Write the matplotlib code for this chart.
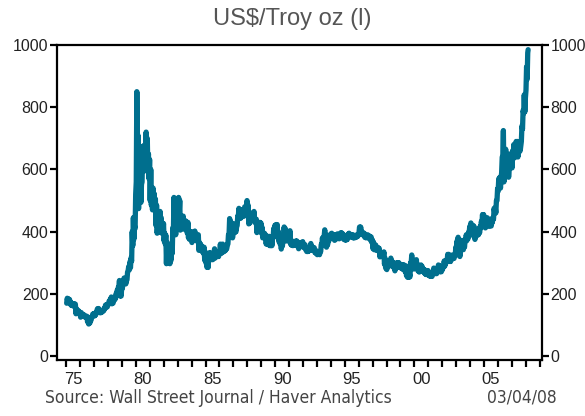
import numpy as np
import matplotlib
matplotlib.use("Agg")
import matplotlib.pyplot as plt

# Monthly low / high gold prices (US$/troy oz)
years = list(range(1975, 2008))
lo = {
1975: [170,175,174,167,163,162,162,158,136,140,139,135],
1976: [125,128,129,127,125,123,110,103,106,115,127,130],
1977: [129,132,144,147,144,139,140,143,146,153,158,158],
1978: [166,172,178,168,170,179,184,195,207,220,193,193],
1979: [217,233,236,232,245,275,277,284,305,355,376,410],
1980: [560,635,474,495,494,560,616,595,636,630,600,570],
1981: [500,485,470,480,475,420,395,398,420,430,395,400],
1982: [370,360,297,340,320,297,308,330,395,405,390,420],
1983: [460,460,405,414,427,408,410,410,395,380,375,380],
1984: [365,373,385,375,370,370,340,343,340,335,330,308],
1985: [300,285,285,315,310,310,310,325,315,320,320,320],
1986: [330,330,332,335,337,340,345,360,390,408,386,380],
1987: [400,397,400,420,449,443,443,447,450,450,460,480],
1988: [470,425,428,445,448,440,432,427,397,405,410,410],
1989: [395,380,382,380,360,360,360,355,355,355,380,405],
1990: [402,410,382,368,360,344,354,374,380,370,378,370],
1991: [370,360,356,355,356,363,365,353,345,355,358,352],
1992: [350,350,342,336,336,338,345,340,340,340,333,330],
1993: [326,327,326,336,355,365,385,372,350,358,370,378],
1994: [378,378,378,372,375,382,382,377,385,386,380,375],
1995: [373,373,375,388,382,385,383,380,380,381,383,385],
1996: [396,400,392,390,390,382,380,385,380,378,372,366],
1997: [346,342,345,340,340,337,319,320,320,321,295,283],
1998: [278,292,290,300,292,287,287,274,285,290,290,285],
1999: [283,283,278,280,270,258,253,253,255,298,290,280],
2000: [281,290,280,273,270,278,278,272,269,264,262,270],
2001: [260,257,256,256,266,266,265,265,273,274,271,271],
2002: [278,288,289,299,305,315,304,304,315,313,314,325],
2003: [345,345,325,320,345,345,342,350,372,371,377,396],
2004: [400,395,390,385,375,385,390,390,396,411,425,430],
2005: [420,412,425,423,417,420,418,430,440,462,460,500],
2006: [530,540,540,590,640,560,610,615,580,575,610,615],
2007: [605,645,637,670,655,640,655,660,690,730,780,785],
}
hi = {
1975: [186,184,182,173,170,168,168,167,152,146,145,141],
1976: [140,134,134,130,128,128,124,113,118,123,135,137],
1977: [137,142,152,153,149,143,146,148,154,164,165,165],
1978: [176,182,190,180,182,186,200,211,221,243,219,226],
1979: [234,251,246,244,270,288,303,316,400,445,418,520],
1980: [850,710,640,545,552,673,677,676,720,700,650,632],
1981: [600,510,540,522,505,485,425,440,465,445,428,426],
1982: [395,389,366,360,349,330,358,412,510,440,435,458],
1983: [510,500,440,445,450,425,435,430,430,402,390,400],
1984: [378,396,402,388,389,390,365,360,352,348,350,335],
1985: [310,310,330,333,320,323,325,345,330,330,330,330],
1986: [360,350,360,345,350,350,360,390,442,432,410,395],
1987: [425,407,415,450,475,460,470,470,470,480,475,500],
1988: [485,460,460,456,457,465,440,440,430,410,430,428],
1989: [414,395,395,390,380,375,385,375,372,380,410,420],
1990: [423,423,400,380,375,358,375,415,410,390,390,390],
1991: [403,370,370,362,361,370,370,360,355,365,365,368],
1992: [360,358,350,341,340,345,362,348,350,348,338,338],
1993: [332,333,335,359,380,380,406,390,362,370,380,392],
1994: [395,388,390,385,390,393,390,385,397,395,390,385],
1995: [382,380,392,395,390,390,390,388,388,388,390,390],
1996: [415,415,400,396,395,390,387,390,387,385,383,374],
1997: [367,357,357,350,349,346,335,330,330,335,315,300],
1998: [300,305,303,315,305,300,298,290,300,300,300,295],
1999: [294,292,294,290,290,270,264,264,300,325,300,290],
2000: [290,310,295,285,280,293,288,280,278,275,270,275],
2001: [270,266,268,264,283,272,270,280,293,290,280,280],
2002: [288,306,303,309,327,327,323,318,325,320,325,350],
2003: [370,382,353,340,372,367,359,375,390,388,398,417],
2004: [428,415,420,415,396,400,405,410,417,433,455,455],
2005: [430,437,445,440,430,440,430,445,475,477,500,538],
2006: [570,575,570,640,725,630,665,650,630,600,650,640],
2007: [660,680,675,690,690,670,680,675,740,790,840,830],
}
lo_2008 = [855, 890]
hi_2008 = [930, 975]
last_value = 985  # 03/04/08

x_tick_labels = ["75", "80", "85", "90", "95", "00", "05"]
y_ticks = [0, 200, 400, 600, 800, 1000]

# Build the series (low then high within each month)
xs, ys = [], []
for y in years:
    for m in range(12):
        xs += [y + (m + 0.25) / 12, y + (m + 0.75) / 12]
        ys += [lo[y][m], hi[y][m]]
for m in range(2):
    xs += [2008 + (m + 0.25) / 12, 2008 + (m + 0.75) / 12]
    ys += [lo_2008[m], hi_2008[m]]
xs.append(2008 + 2.1 / 12)
ys.append(last_value)

fig = plt.figure(figsize=(5.85, 4.16), dpi=100)
ax = fig.add_axes([0.098, 0.1358, 0.828, 0.756])
ax.plot(xs, ys, color="#006F8E", lw=3.8, solid_joinstyle="round", solid_capstyle="round")

ax.set_xlim(1974.35, 2009.15)
ax.set_ylim(-11, 1000)

for s in ax.spines.values():
    s.set_linewidth(1.6)
    s.set_color("black")

# x ticks: year starts (unlabelled), labels centred in year
ax.set_xticks(np.arange(1975, 2010))
ax.set_xticklabels([])
ax.tick_params(axis="x", which="major", direction="out", length=5, width=1.6)
label_pos = [1975.5, 1980.5, 1985.5, 1990.5, 1995.5, 2000.5, 2005.5]
ax.set_xticks(label_pos, minor=True)
ax.set_xticklabels(x_tick_labels, minor=True)
ax.tick_params(axis="x", which="minor", length=0, pad=9, labelsize=12,
               labelcolor="#222222")

ax.set_yticks(y_ticks)
ax.set_yticklabels([str(v) for v in y_ticks])
ax.tick_params(axis="y", direction="out", length=5, width=1.6, labelsize=11.5,
               left=True, right=True, labelleft=True, labelright=True,
               pad=1.5, labelcolor="#222222")

for lab in ax.get_xticklabels(minor=True) + ax.get_yticklabels():
    lab.set_family(["Liberation Sans", "DejaVu Sans"])

fig.text(0.5, 0.955, "US$/Troy oz (l)", ha="center", va="center",
         fontsize=17, color="#555555", family=["Liberation Sans", "DejaVu Sans"])
fig.text(0.077, 0.022, "Source: Wall Street Journal / Haver Analytics", ha="left",
         va="bottom", fontsize=12.5, color="#444444",
         family=["Liberation Sans Narrow", "DejaVu Sans"], stretch="condensed")
fig.text(0.952, 0.022, "03/04/08", ha="right", va="bottom", fontsize=12.5,
         color="#444444", family=["Liberation Sans Narrow", "DejaVu Sans"],
         stretch="condensed")

fig.savefig("out.png", dpi=100)
